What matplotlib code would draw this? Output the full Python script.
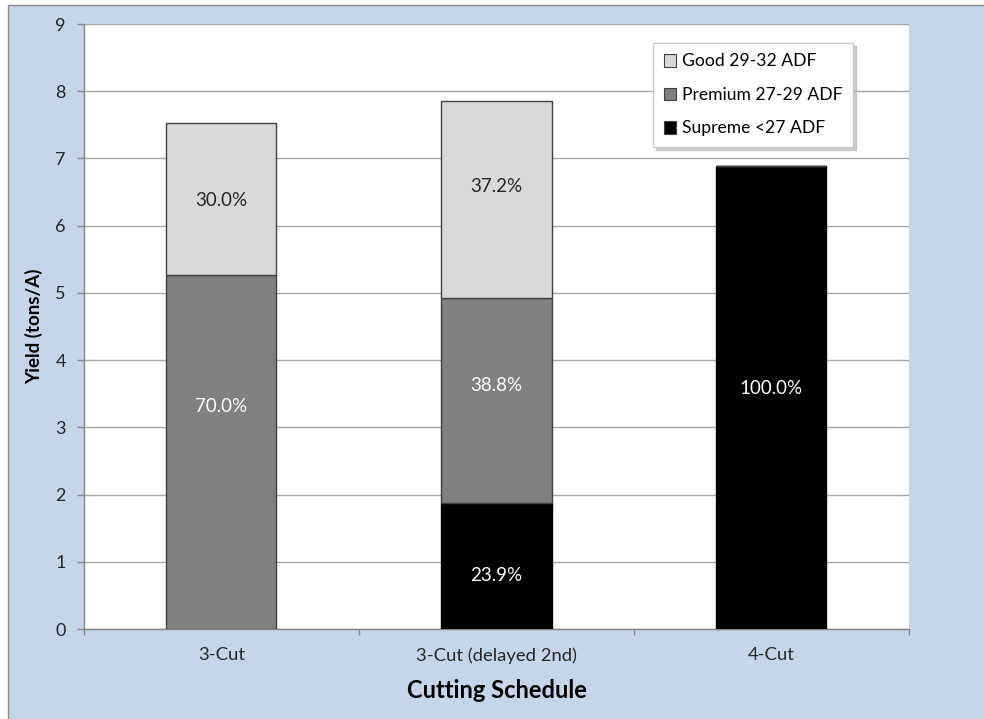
import matplotlib
matplotlib.use("Agg")
import matplotlib.pyplot as plt
from matplotlib.patches import Rectangle
import numpy as np

plt.rcParams["font.family"] = ["Lato", "DejaVu Sans"]

# Total yield per cutting schedule (tons/A) and its split by quality class (%)
schedules = ["3-Cut", "3-Cut (delayed 2nd)", "4-Cut"]
total_yield = [7.52, 7.86, 6.89]
supreme_pct = [0.0, 23.9, 100.0]
premium_pct = [70.0, 38.8, 0.0]
good_pct = [30.0, 37.2, 0.0]

series_names = ["Supreme <27 ADF", "Premium 27-29 ADF", "Good 29-32 ADF"]
series_colors = ["#000000", "#808080", "#d9d9d9"]
label_colors = ["#ffffff", "#ffffff", "#262626"]
# where each percentage label sits inside its segment (0 = bottom, 1 = top)
label_frac = [
    [None, 0.42, 0.52],
    [0.63, 0.57, None],
    [0.49, 0.565, None],
]

W, H = 984, 719
fig = plt.figure(figsize=(W / 100, H / 100), dpi=100)
fig.patch.set_facecolor("white")

# chart area background with a thin frame
bg = fig.add_axes([0, 0, 1, 1], zorder=-5)
bg.set_axis_off()
bg.set_xlim(0, W)
bg.set_ylim(H, 0)
bg.add_patch(Rectangle((8, 5), W + 10, H + 10, facecolor="#c5d5ea",
                       edgecolor="#8c8c8c", linewidth=1.0))

ax = fig.add_axes([84 / W, 1 - 629 / H, (909 - 84) / W, (629 - 24) / H])
ax.set_facecolor("white")

x = np.arange(len(schedules))
totals = np.asarray(total_yield)
shares = [supreme_pct, premium_pct, good_pct]
bottom = np.zeros(len(schedules))
handles = []
for i, (pct, name, col) in enumerate(zip(shares, series_names, series_colors)):
    pct = np.asarray(pct)
    vals = totals * pct / 100.0
    ec = "#404040" if col != "#000000" else "#000000"
    bars = ax.bar(x, vals, width=0.4, bottom=bottom, color=col, edgecolor=ec,
                  linewidth=1.0, label=name, zorder=3)
    handles.append(bars)
    for j, v in enumerate(vals):
        if v > 0:
            yy = bottom[j] + v * label_frac[i][j]
            ax.text(x[j], yy, f"{pct[j]:.1f}%", ha="center", va="center",
                    fontsize=13.5, color=label_colors[i], zorder=4)
    bottom = bottom + vals

ax.set_xlim(-0.5, len(schedules) - 0.5)
ax.set_ylim(0, 9)
ax.set_yticks(range(0, 10))
ax.yaxis.grid(True, color="#a6a6a6", linewidth=1.0, zorder=0)
ax.set_axisbelow(True)

ax.set_xticks(x)
ax.set_xticklabels(schedules, fontsize=13.3, color="#262626")
ax.set_xticks(np.arange(-0.5, len(schedules)), minor=True)
ax.tick_params(axis="x", which="major", length=0, pad=13)
ax.tick_params(axis="x", which="minor", length=4, color="#868686", width=1)
ax.tick_params(axis="y", length=5, color="#868686", width=1, pad=8,
               labelsize=13, labelcolor="#262626")

for side in ["top", "right"]:
    ax.spines[side].set_visible(False)
for side in ["left", "bottom"]:
    ax.spines[side].set_color("#868686")
    ax.spines[side].set_linewidth(1.0)

ax.set_xlabel("Cutting Schedule", fontsize=17, fontweight="bold", labelpad=11)
ax.set_ylabel("Yield (tons/A)", fontsize=13.5, fontweight="bold", labelpad=9)

leg = ax.legend(handles[::-1], series_names[::-1], loc="upper right",
                bbox_to_anchor=(853 / W, 1 - 43 / H), bbox_transform=fig.transFigure,
                fontsize=12.6, frameon=True, fancybox=False,
                shadow={"color": "#b0b0b0", "alpha": 0.6},
                handlelength=0.7, handleheight=0.7, handletextpad=0.35,
                labelspacing=1.0, borderpad=0.6, borderaxespad=0)
leg.get_frame().set_edgecolor("#c8c8c8")
leg.get_frame().set_linewidth(1.0)
for p in leg.get_patches():
    p.set_edgecolor("#404040")
    p.set_linewidth(0.8)

fig.savefig("out.png", dpi=100, facecolor=fig.get_facecolor())
